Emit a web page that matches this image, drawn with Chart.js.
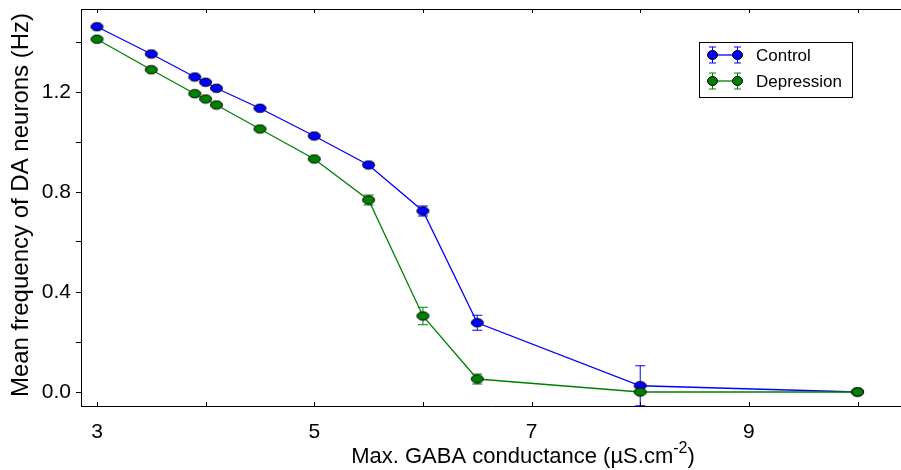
<!DOCTYPE html>
<html>
<head>
<meta charset="utf-8">
<script src="https://cdn.jsdelivr.net/npm/chart.js@4.4.1/dist/chart.umd.min.js"></script>
<style>
  html, body { margin: 0; padding: 0; background: #fff; }
</style>
</head>
<body>
<canvas id="chart" width="901" height="470"></canvas>
<script>
// Max. GABA conductance (x values)
const conductance = [3, 3.5, 3.9, 4.0, 4.1, 4.5, 5, 5.5, 6, 6.5, 8, 10];

// Mean frequency + error, per condition
const controlFreq = [1.461, 1.352, 1.26, 1.239, 1.215, 1.135, 1.024, 0.908, 0.724, 0.277, 0.025, 0.0];
const controlErr = [0, 0, 0, 0, 0, 0, 0.005, 0.01, 0.02, 0.03, 0.08, 0];
const depressionFreq = [1.411, 1.289, 1.193, 1.172, 1.148, 1.052, 0.932, 0.768, 0.304, 0.052, 0.0, 0.0];
const depressionErr = [0, 0, 0, 0, 0, 0, 0.005, 0.02, 0.035, 0.02, 0, 0];

// Ticks
const xTicks = [3, 4, 5, 6, 7, 8, 9, 10];
const xTickLabels = ['3', '', '5', '', '7', '', '9', ''];
const yTicks = [0, 0.2, 0.4, 0.6, 0.8, 1.0, 1.2, 1.4];
const yTickLabels = ['0.0', '', '0.4', '', '0.8', '', '1.2', ''];

const FONT = 'Liberation Sans, Arial, sans-serif';
const BLUE = '#0000ff';
const GREEN = '#008000';

// small ellipse used as marker
function ellipseMarker(fill) {
    const c = document.createElement('canvas');
    c.width = 15;
    c.height = 11;
    const g = c.getContext('2d');
    g.beginPath();
    g.ellipse(7.5, 5.5, 6, 4.2, 0, 0, Math.PI * 2);
    g.fillStyle = fill;
    g.fill();
    g.lineWidth = 1;
    g.strokeStyle = '#000';
    g.stroke();
    return c;
}

function points(ys) {
    return conductance.map((x, i) => ({ x: x, y: ys[i] }));
}

// error bars, drawn under the lines/markers
const errorBars = {
    id: 'errorBars',
    beforeDatasetsDraw(chart) {
        const ctx = chart.ctx;
        const xs = chart.scales.x, ys = chart.scales.y;
        chart.data.datasets.forEach(ds => {
            ctx.save();
            ctx.strokeStyle = ds.borderColor;
            ctx.lineWidth = 1;
            ds.data.forEach((p, i) => {
                const e = ds.errors[i];
                if (!e) return;
                const px = xs.getPixelForValue(p.x);
                const top = ys.getPixelForValue(p.y + e);
                const bot = ys.getPixelForValue(p.y - e);
                ctx.beginPath();
                ctx.moveTo(px, top); ctx.lineTo(px, bot);
                ctx.moveTo(px - 5, top); ctx.lineTo(px + 5, top);
                ctx.moveTo(px - 5, bot); ctx.lineTo(px + 5, bot);
                ctx.stroke();
            });
            ctx.restore();
        });
    }
};

// top spine, inward x ticks, axis titles and legend
const decorations = {
    id: 'decorations',
    afterDraw(chart) {
        const ctx = chart.ctx;
        const a = chart.chartArea;
        const xs = chart.scales.x;
        ctx.save();

        // top spine
        ctx.strokeStyle = '#000';
        ctx.lineWidth = 1;
        ctx.beginPath();
        ctx.moveTo(a.left, a.top + 0.5);
        ctx.lineTo(a.right, a.top + 0.5);
        ctx.stroke();

        // x ticks pointing inward, top and bottom
        ctx.beginPath();
        xTicks.forEach(v => {
            const px = Math.round(xs.getPixelForValue(v)) + 0.5;
            ctx.moveTo(px, a.bottom); ctx.lineTo(px, a.bottom - 4);
            ctx.moveTo(px, a.top); ctx.lineTo(px, a.top + 4);
        });
        ctx.stroke();

        // y title
        ctx.fillStyle = '#000';
        ctx.font = '24px ' + FONT;
        ctx.save();
        ctx.translate(28, 205);
        ctx.rotate(-Math.PI / 2);
        ctx.textAlign = 'center';
        ctx.textBaseline = 'alphabetic';
        ctx.fillText('Mean frequency of DA neurons (Hz)', 0, 0);
        ctx.restore();

        // x title with superscript
        const main = 'Max. GABA conductance (\u00b5S.cm';
        const sup = '-2';
        const close = ')';
        ctx.font = '22px ' + FONT;
        const w1 = ctx.measureText(main).width;
        const w3 = ctx.measureText(close).width;
        ctx.font = '16px ' + FONT;
        const w2 = ctx.measureText(sup).width;
        let x0 = 523 - (w1 + w2 + w3) / 2;
        const base = 463;
        ctx.textAlign = 'left';
        ctx.textBaseline = 'alphabetic';
        ctx.font = '22px ' + FONT;
        ctx.fillText(main, x0, base);
        ctx.font = '16px ' + FONT;
        ctx.fillText(sup, x0 + w1, base - 10);
        ctx.font = '22px ' + FONT;
        ctx.fillText(close, x0 + w1 + w2, base);

        // legend
        ctx.fillStyle = '#fff';
        ctx.fillRect(699, 42, 153, 55);
        ctx.strokeStyle = '#000';
        ctx.lineWidth = 1;
        ctx.strokeRect(699.5, 42.5, 153, 55);
        const entries = [
            { label: 'Control', color: BLUE, y: 55 },
            { label: 'Depression', color: GREEN, y: 81 }
        ];
        entries.forEach(en => {
            ctx.strokeStyle = en.color;
            ctx.lineWidth = 1.3;
            ctx.beginPath();
            ctx.moveTo(712, en.y); ctx.lineTo(737, en.y);
            ctx.stroke();
            ctx.lineWidth = 1;
            [712, 737].forEach(px => {
                ctx.beginPath();
                ctx.moveTo(px + 0.5, en.y - 8); ctx.lineTo(px + 0.5, en.y + 8);
                ctx.moveTo(px - 3, en.y - 8); ctx.lineTo(px + 4, en.y - 8);
                ctx.moveTo(px - 3, en.y + 8); ctx.lineTo(px + 4, en.y + 8);
                ctx.stroke();
                ctx.beginPath();
                ctx.ellipse(px + 0.5, en.y, 5, 4.5, 0, 0, Math.PI * 2);
                ctx.fillStyle = en.color;
                ctx.fill();
                ctx.strokeStyle = '#000';
                ctx.stroke();
                ctx.strokeStyle = en.color;
            });
            ctx.fillStyle = '#000';
            ctx.font = '17px ' + FONT;
            ctx.textAlign = 'left';
            ctx.textBaseline = 'middle';
            ctx.fillText(en.label, 756, en.y + 1);
        });

        ctx.restore();
    }
};

const canvas = document.getElementById('chart');

const chart = new Chart(canvas, {
    type: 'line',
    data: {
        datasets: [{
            label: 'Depression',
            data: points(depressionFreq),
            errors: depressionErr,
            borderColor: GREEN,
            borderWidth: 1.3,
            pointStyle: ellipseMarker(GREEN),
            pointRadius: 5,
            fill: false,
            tension: 0
        }, {
            label: 'Control',
            data: points(controlFreq),
            errors: controlErr,
            borderColor: BLUE,
            borderWidth: 1.3,
            pointStyle: ellipseMarker(BLUE),
            pointRadius: 5,
            fill: false,
            tension: 0
        }]
    },
    options: {
        responsive: false,
        animation: false,
        layout: { autoPadding: false, padding: { top: 9, right: 0, left: 0, bottom: 0 } },
        plugins: {
            legend: { display: false },
            tooltip: { enabled: false }
        },
        scales: {
            x: {
                type: 'linear',
                min: 2.853,
                max: 10.4,
                afterBuildTicks: s => { s.ticks = xTicks.map(v => ({ value: v })); },
                afterFit: s => {
                    s.height = 64;
                    s.paddingLeft = 0;
                    s.paddingRight = 0;
                },
                ticks: {
                    callback: v => xTickLabels[xTicks.indexOf(v)],
                    font: { family: FONT, size: 21 },
                    color: '#000',
                    padding: 6,
                    maxRotation: 0,
                    autoSkip: false
                },
                grid: { display: false },
                border: { display: true, color: '#000', width: 1 }
            },
            y: {
                type: 'linear',
                min: -0.056,
                max: 1.532,
                afterBuildTicks: s => { s.ticks = yTicks.map(v => ({ value: v })); },
                afterFit: s => {
                    s.width = 81;
                    s.paddingTop = 0;
                    s.paddingBottom = 0;
                },
                ticks: {
                    callback: v => yTickLabels[yTicks.indexOf(v)],
                    font: { family: FONT, size: 21 },
                    color: '#000',
                    padding: 5,
                    autoSkip: false
                },
                grid: { drawOnChartArea: false, drawTicks: true, tickLength: 5, color: '#000' },
                border: { display: true, color: '#000', width: 1 }
            }
        }
    },
    plugins: [errorBars, decorations]
});
</script>
</body>
</html>
